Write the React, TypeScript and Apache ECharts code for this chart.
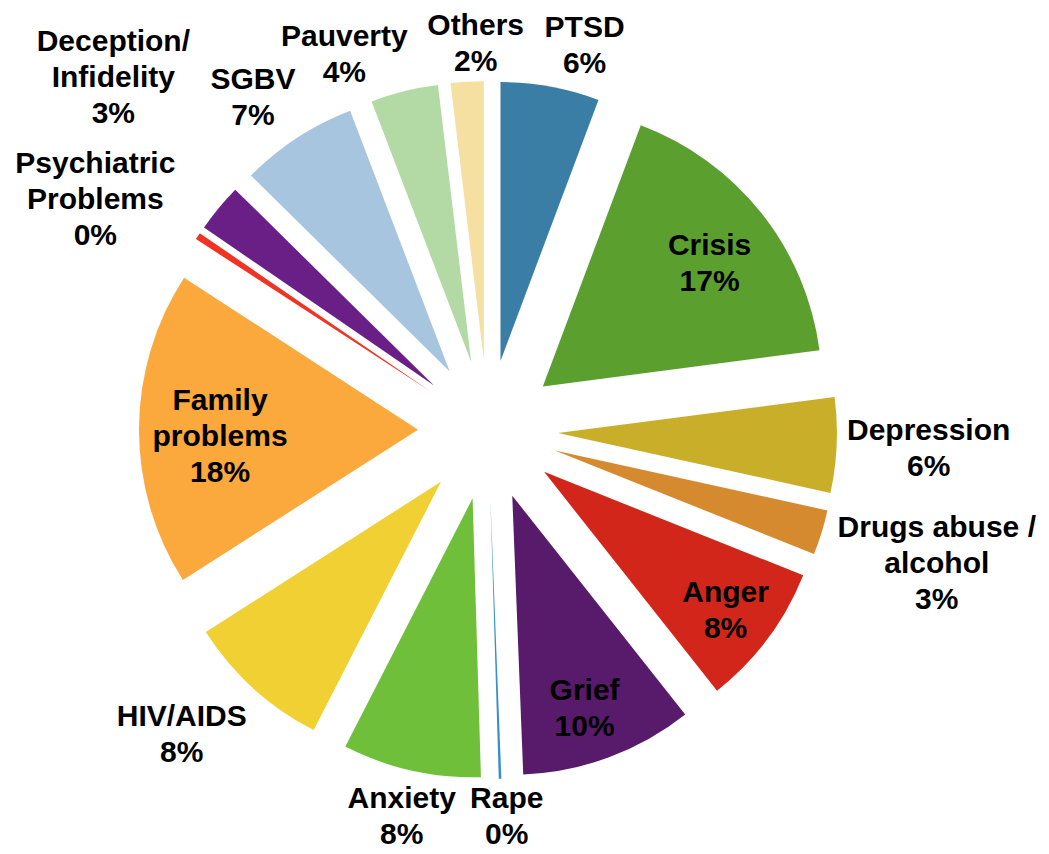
import React, { useEffect, useRef } from "react";
import * as echarts from "echarts";

const categories = [
  "PTSD",
  "Crisis",
  "Depression",
  "Drugs abuse /\nalcohol",
  "Anger",
  "Grief",
  "Rape",
  "Anxiety",
  "HIV/AIDS",
  "Family\nproblems",
  "Psychiatric\nProblems",
  "Deception/\nInfidelity",
  "SGBV",
  "Pauverty",
  "Others",
];

const values = [5.7, 17.2, 5.5, 2.6, 8.3, 10.0, 0.15, 8.0, 8.4, 18.2, 0.4, 2.8, 6.8, 3.9, 1.9];

const colors = [
  "#3A7EA6",
  "#5BA02F",
  "#C9AE2A",
  "#D68A30",
  "#D3261B",
  "#581A6B",
  "#3A8FCB",
  "#6FBF3A",
  "#F0D032",
  "#FBA83D",
  "#F03323",
  "#6A1F87",
  "#A8C5DF",
  "#B3D9A4",
  "#F5E0A1",
];

// label placement: distance from pie centre and angular nudge (degrees) from the slice mid-angle
const labelRadius = [397, 278, 441, 468, 298, 294, 386, 395, 431, 268, 456, 515, 408, 403, 388];
const labelNudge = [3.8, 1.3, -0.2, -0.6, 0.4, 1.1, -0.8, -0.1, 3.0, -1.3, -3.2, 3.8, -2.0, -7.0, 1.6];

const CX = 488;
const CY = 430;
const RADIUS = 279;

export default function App() {
  const ref = useRef<HTMLDivElement>(null);
  useEffect(() => {
    if (!ref.current) return;
    const chart = echarts.init(ref.current, undefined, { renderer: "svg" });
    const total = values.reduce((a, b) => a + b, 0);
    const mids: number[] = [];
    let acc = 0;
    values.forEach((v) => {
      const a0 = (acc / total) * 360;
      acc += v;
      const a1 = (acc / total) * 360;
      mids.push((a0 + a1) / 2);
    });
    const textStyle = {
      fontFamily: "Liberation Sans, Arial, sans-serif",
      fontWeight: "bold",
      fontSize: 30,
      lineHeight: 36,
      color: "#000000",
      align: "center",
    };
    chart.setOption({
      animation: false,
      backgroundColor: "#ffffff",
      series: [
        {
          type: "pie",
          center: [CX, CY],
          radius: RADIUS,
          startAngle: 90,
          clockwise: true,
          selectedMode: "multiple",
          selectedOffset: 70,
          emphasis: { disabled: true },
          itemStyle: { borderWidth: 0 },
          data: categories.map((name, i) => ({
            name,
            value: values[i],
            selected: true,
            itemStyle: { color: colors[i] },
          })),
          label: { show: false },
          labelLine: { show: false },
          z: 1,
        },
        {
          type: "pie",
          center: [CX, CY],
          radius: RADIUS,
          startAngle: 90,
          clockwise: true,
          silent: true,
          avoidLabelOverlap: false,
          emphasis: { disabled: true },
          itemStyle: { color: "rgba(0,0,0,0)", borderWidth: 0 },
          data: categories.map((name, i) => ({ name, value: values[i] })),
          label: {
            show: true,
            position: "outside",
            formatter: (p: any) => `${p.name}\n${Math.round(p.percent)}%`,
            ...textStyle,
          },
          labelLine: { show: false },
          labelLayout: (params: any) => {
            const i = params.dataIndex;
            const th = ((mids[i] + labelNudge[i]) * Math.PI) / 180;
            return {
              x: CX + labelRadius[i] * Math.sin(th),
              y: CY - labelRadius[i] * Math.cos(th),
              align: "center",
              verticalAlign: "middle",
            };
          },
          z: 2,
        },
      ],
    });
    return () => chart.dispose();
  }, []);
  return (
    <div
      ref={ref}
      style={{ position: "absolute", left: 0, top: 0, width: 1049, height: 854 }}
    />
  );
}
